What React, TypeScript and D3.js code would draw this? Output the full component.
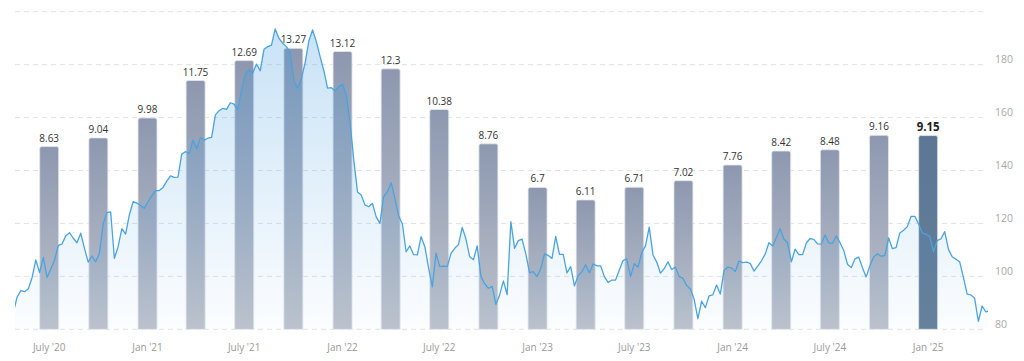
import React from "react";
import * as d3 from "d3";

// Quarterly bar series (right bars, value labels)
const barDates = [
  "2020-07-01", "2020-10-01", "2021-01-01", "2021-04-01", "2021-07-01", "2021-10-01",
  "2022-01-01", "2022-04-01", "2022-07-01", "2022-10-01", "2023-01-01", "2023-04-01",
  "2023-07-01", "2023-10-01", "2024-01-01", "2024-04-01", "2024-07-01", "2024-10-01",
  "2025-01-01",
];
const barValues = [
  8.63, 9.04, 9.98, 11.75, 12.69, 13.27, 13.12, 12.3, 10.38, 8.76, 6.7, 6.11, 6.71,
  7.02, 7.76, 8.42, 8.48, 9.16, 9.15,
];
const barLabels = [
  "8.63", "9.04", "9.98", "11.75", "12.69", "13.27", "13.12", "12.3", "10.38", "8.76",
  "6.7", "6.11", "6.71", "7.02", "7.76", "8.42", "8.48", "9.16", "9.15",
];

// Weekly line series, starting 2020-04-25
const lineStart = "2020-04-25";
const lineValues = [
  86.5, 92.2, 94.6, 94.2, 95.3, 99.6, 106.2, 101.4, 107.2, 99.6,
  102.8, 106.2, 111.7, 112.2, 115.3, 116.5, 114.4, 112.7, 116.3, 110.6,
  105.4, 107.7, 105.5, 108.7, 119.8, 124.1, 124.4, 106.8, 111.2, 118.0,
  116.0, 123.2, 128.2, 127.7, 126.8, 125.7, 128.2, 130.5, 132.4, 132.4,
  133.6, 136.0, 138.0, 137.4, 137.5, 146.2, 147.1, 146.5, 151.5, 148.2,
  152.5, 151.5, 152.2, 152.5, 161.0, 162.6, 163.5, 163.1, 165.6, 165.1,
  162.9, 170.4, 176.5, 178.0, 176.9, 180.2, 177.7, 185.8, 186.8, 187.4,
  193.5, 189.9, 188.1, 186.8, 184.7, 173.9, 171.1, 174.8, 180.7, 189.0,
  193.1, 188.7, 183.0, 177.7, 171.1, 171.3, 170.1, 171.7, 172.7, 168.5,
  158.3, 144.0, 131.9, 130.7, 127.0, 126.3, 127.6, 122.5, 120.0, 130.1,
  132.0, 135.4, 129.5, 122.9, 119.8, 109.3, 111.5, 108.2, 108.1, 115.0,
  111.2, 103.3, 96.0, 108.8, 103.7, 103.9, 103.7, 108.7, 110.6, 112.0,
  118.5, 114.1, 107.4, 106.3, 111.5, 100.0, 97.2, 95.5, 96.2, 89.4,
  93.0, 98.3, 93.1, 120.7, 110.6, 113.5, 114.1, 108.5, 101.4, 101.8,
  99.9, 103.0, 108.5, 107.9, 106.8, 115.1, 108.3, 108.3, 101.3, 103.7,
  96.4, 100.3, 101.8, 104.4, 101.4, 104.7, 104.0, 104.0, 99.9, 97.7,
  98.6, 98.6, 102.4, 106.0, 106.6, 99.9, 104.8, 103.5, 109.0, 111.5,
  118.6, 108.1, 105.4, 101.2, 102.9, 105.5, 102.6, 103.5, 99.9, 99.3,
  96.6, 95.2, 91.4, 84.0, 90.6, 88.2, 92.6, 93.0, 96.7, 93.3,
  102.2, 103.5, 103.2, 101.8, 105.8, 105.2, 105.4, 104.9, 102.0, 103.9,
  105.9, 108.4, 112.7, 111.5, 114.8, 118.0, 114.1, 112.6, 105.5, 110.3,
  108.2, 108.2, 112.6, 114.3, 114.0, 112.3, 112.2, 115.7, 112.7, 112.5,
  115.3, 112.8, 109.8, 104.6, 103.3, 106.6, 107.3, 103.3, 99.8, 104.0,
  107.3, 108.5, 107.6, 107.9, 114.5, 110.5, 110.9, 116.4, 117.4, 118.8,
  122.7, 122.7, 119.9, 116.4, 115.9, 115.1, 109.3, 113.5, 114.2, 116.9,
  110.2, 107.4, 106.5, 105.5, 99.6, 93.3, 93.0, 91.7, 83.0, 88.8,
  86.6, 87.0,
];

const xTickDates = [
  "2020-07-01", "2021-01-01", "2021-07-01", "2022-01-01", "2022-07-01",
  "2023-01-01", "2023-07-01", "2024-01-01", "2024-07-01", "2025-01-01",
];
const xTickLabels = [
  "July '20", "Jan '21", "July '21", "Jan '22", "July '22",
  "Jan '23", "July '23", "Jan '24", "July '24", "Jan '25",
];
const yTicks = [80, 100, 120, 140, 160, 180, 200];
const yTickLabels = ["80", "100", "120", "140", "160", "180", ""];

const W = 1024;
const H = 361;
const LEFT = 15;
const RIGHT = 988;
const TOP = 11.7;
const BOTTOM = 329.3;
const FONT = "'Open Sans', 'Noto Sans', sans-serif";

export default function App() {
  const parse = d3.utcParse("%Y-%m-%d");
  const x = d3
    .scaleUtc()
    .domain([parse("2020-04-28")!, parse("2025-04-23")!])
    .range([LEFT, RIGHT]);
  const yLine = d3.scaleLinear().domain([80, 200]).range([BOTTOM, TOP]);
  const yBar = d3.scaleLinear().domain([0, 15]).range([BOTTOM, TOP]);

  const start = parse(lineStart)!;
  const lineData = lineValues.map((v, i) => ({
    date: d3.utcDay.offset(start, i * 7),
    value: v,
  }));

  const line = d3
    .line<{ date: Date; value: number }>()
    .x((d) => x(d.date))
    .y((d) => yLine(d.value));
  const area = d3
    .area<{ date: Date; value: number }>()
    .x((d) => x(d.date))
    .y0(yLine(80))
    .y1((d) => yLine(d.value));

  const barW = 19;
  const r = 2;
  const barPath = (cx: number, top: number, bottom: number) => {
    const x0 = cx - barW / 2;
    const x1 = cx + barW / 2;
    return `M${x0},${bottom}V${top + r}Q${x0},${top} ${x0 + r},${top}H${x1 - r}Q${x1},${top} ${x1},${top + r}V${bottom}Z`;
  };

  return (
    <svg
      width={W}
      height={H}
      style={{ position: "absolute", left: 0, top: 0, background: "#fff" }}
      fontFamily={FONT}
    >
      <defs>
        <linearGradient id="barGrad" x1="0" y1="0" x2="0" y2="1">
          <stop offset="0%" stopColor="#8d98b0" />
          <stop offset="100%" stopColor="#bec3cc" />
        </linearGradient>
        <linearGradient id="barGradLast" x1="0" y1="0" x2="0" y2="1">
          <stop offset="0%" stopColor="#5c7794" />
          <stop offset="100%" stopColor="#66809a" />
        </linearGradient>
        <linearGradient
          id="areaGrad"
          gradientUnits="userSpaceOnUse"
          x1="0"
          y1={TOP}
          x2="0"
          y2={BOTTOM}
        >
          <stop offset="0%" stopColor="#3f9be0" stopOpacity={0.3} />
          <stop offset="100%" stopColor="#3f9be0" stopOpacity={0.02} />
        </linearGradient>
        <clipPath id="plotClip">
          <rect x={LEFT} y={0} width={RIGHT - LEFT} height={H} />
        </clipPath>
      </defs>

      {yTicks.map((t, i) => (
        <g key={"g" + t}>
          <line
            x1={LEFT}
            x2={RIGHT - 1}
            y1={yLine(t)}
            y2={yLine(t)}
            stroke="#e2e2e2"
            strokeWidth={1}
            strokeDasharray="5,4"
          />
          <text
            x={995}
            y={yLine(t) - 1.5}
            fontSize={10.5}
            fill="#a8a8a8"
          >
            {yTickLabels[i]}
          </text>
        </g>
      ))}

      {barValues.map((v, i) => {
        const cx = x(parse(barDates[i])!);
        const last = i === barValues.length - 1;
        return (
          <path
            key={"b" + i}
            d={barPath(cx, yBar(v), yBar(0))}
            fill={last ? "url(#barGradLast)" : "url(#barGrad)"}
            stroke="#e4e7ed"
            strokeWidth={0.8}
          />
        );
      })}

      <g clipPath="url(#plotClip)">
        <path d={area(lineData) || ""} fill="url(#areaGrad)" />
        <path
          d={line(lineData) || ""}
          fill="none"
          stroke="#4aa3df"
          strokeWidth={1.3}
          strokeLinejoin="round"
        />
      </g>

      {barValues.map((v, i) => {
        const cx = x(parse(barDates[i])!);
        const last = i === barValues.length - 1;
        return (
          <text
            key={"l" + i}
            x={cx}
            y={yBar(v) - 5}
            textAnchor="middle"
            fontSize={last ? 11.5 : 10}
            fontWeight={last ? 700 : 400}
            fill={last ? "#222" : "#333"}
          >
            {barLabels[i]}
          </text>
        );
      })}

      {xTickDates.map((d, i) => (
        <text
          key={"x" + i}
          x={x(parse(d)!)}
          y={351}
          textAnchor="middle"
          fontSize={10}
          fill="#9a9a9a"
        >
          {xTickLabels[i]}
        </text>
      ))}
    </svg>
  );
}
